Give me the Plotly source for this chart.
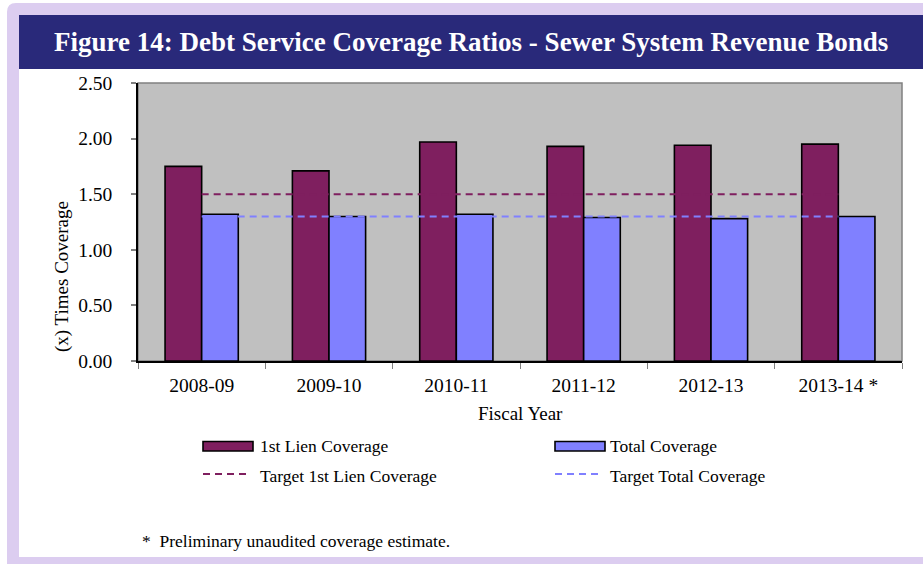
import plotly.graph_objects as go

# Fiscal years and coverage ratios
years = ["2008-09", "2009-10", "2010-11", "2011-12", "2012-13", "2013-14 *"]
first_lien = [1.75, 1.71, 1.97, 1.93, 1.94, 1.95]
total_cov = [1.32, 1.30, 1.32, 1.29, 1.28, 1.30]
target_first_lien = [1.50] * 6
target_total = [1.30] * 6
y_ticks = [0.0, 0.5, 1.0, 1.5, 2.0, 2.5]
y_tick_text = ["0.00", "0.50", "1.00", "1.50", "2.00", "2.50"]

W, H = 923, 564
L, R, T, B = 138, 902, 83, 361  # plot area in pixels

PURPLE = "#7F1F5F"
BLUE = "#8080FF"
LAVENDER = "#DCCDF0"
NAVY = "#29297A"
SERIF = "Liberation Serif, Times New Roman, serif"


def fx(p):
    return (p - L) / (R - L)


def fy(p):
    return (B - p) / (B - T)


fig = go.Figure()
fig.add_trace(go.Bar(x=years, y=first_lien, name="1st Lien Coverage",
                     marker=dict(color=PURPLE, line=dict(color="black", width=1.6))))
fig.add_trace(go.Bar(x=years, y=total_cov, name="Total Coverage",
                     marker=dict(color=BLUE, line=dict(color="black", width=1.6))))
fig.add_trace(go.Scatter(x=years, y=target_first_lien, mode="lines",
                         name="Target 1st Lien Coverage",
                         line=dict(color=PURPLE, width=2, dash="7px,5px")))
fig.add_trace(go.Scatter(x=years, y=target_total, mode="lines",
                         name="Target Total Coverage",
                         line=dict(color=BLUE, width=2, dash="7px,5px")))

shapes = []
# lavender frame with rounded top-left corner
r = 9
shapes.append(dict(
    type="path", xref="paper", yref="paper", layer="below",
    path=(f"M {fx(7)},{fy(564)} L {fx(7)},{fy(3 + r)} "
          f"Q {fx(7)},{fy(3)} {fx(7 + r)},{fy(3)} "
          f"L {fx(923)},{fy(3)} L {fx(923)},{fy(564)} Z"),
    fillcolor=LAVENDER, line=dict(width=0)))
# white inner panel
shapes.append(dict(type="rect", xref="paper", yref="paper", layer="below",
                   x0=fx(19), x1=fx(923), y0=fy(557), y1=fy(15),
                   fillcolor="white", line=dict(width=0)))
# title banner
shapes.append(dict(type="rect", xref="paper", yref="paper", layer="below",
                   x0=fx(19), x1=fx(923), y0=fy(69), y1=fy(15),
                   fillcolor=NAVY, line=dict(width=0)))
# plot area fill and border
shapes.append(dict(type="rect", xref="x domain", yref="y domain", layer="below",
                   x0=0, x1=1, y0=0, y1=1,
                   fillcolor="#C0C0C0", line=dict(color="#808080", width=1.5)))

# legend keys
for x0, color in [(203, PURPLE), (555, BLUE)]:
    shapes.append(dict(type="rect", xref="paper", yref="paper",
                       x0=fx(x0), x1=fx(x0 + 50), y0=fy(451), y1=fy(441.5),
                       fillcolor=color, line=dict(color="black", width=1.6)))
for x0, color in [(203, PURPLE), (555, BLUE)]:
    shapes.append(dict(type="line", xref="paper", yref="paper",
                       x0=fx(x0), x1=fx(x0 + 47), y0=fy(474), y1=fy(474),
                       line=dict(color=color, width=2, dash="7px,5px")))

annotations = [
    dict(text="<b>Figure 14: Debt Service Coverage Ratios - Sewer System Revenue Bonds</b>",
         x=fx(471), y=fy(42), xref="paper", yref="paper", showarrow=False,
         xanchor="center", yanchor="middle",
         font=dict(family=SERIF, size=27, color="white")),
    dict(text="(x) Times Coverage", x=fx(62), y=fy(277), xref="paper", yref="paper",
         showarrow=False, textangle=-90, xanchor="center", yanchor="middle",
         font=dict(family=SERIF, size=19, color="black")),
    dict(text="Fiscal Year", x=fx(520), y=fy(413), xref="paper", yref="paper",
         showarrow=False, xanchor="center", yanchor="middle",
         font=dict(family=SERIF, size=19, color="black")),
    dict(text="*  Preliminary unaudited coverage estimate.", x=fx(140), y=fy(541),
         xref="paper", yref="paper", showarrow=False, xanchor="left", yanchor="middle",
         font=dict(family=SERIF, size=17.5, color="black")),
]
for x0, y0, label in [(258, 446, "1st Lien Coverage"), (608, 446, "Total Coverage"),
                      (258, 476, "Target 1st Lien Coverage"),
                      (608, 476, "Target Total Coverage")]:
    annotations.append(dict(text=label, x=fx(x0), y=fy(y0), xref="paper", yref="paper",
                            showarrow=False, xanchor="left", yanchor="middle",
                            font=dict(family=SERIF, size=17.5, color="black")))

fig.update_layout(
    width=W, height=H,
    margin=dict(l=L, r=W - R, t=T, b=H - B, pad=0),
    paper_bgcolor="white", plot_bgcolor="#C0C0C0",
    barmode="group", bargap=0.425, bargroupgap=0,
    showlegend=False,
    shapes=shapes, annotations=annotations,
    font=dict(family=SERIF, size=19, color="black"),
)
fig.update_xaxes(type="category", showgrid=False, zeroline=False,
                 showline=True, linecolor="black", linewidth=1.5,
                 ticks="outside", tickson="boundaries", ticklen=6,
                 tickcolor="#808080", tickwidth=1,
                 ticklabelstandoff=6,
                 tickfont=dict(family=SERIF, size=19.5, color="black"))
fig.update_yaxes(range=[0, 2.5], tickvals=y_ticks, ticktext=y_tick_text,
                 showgrid=False, zeroline=False,
                 showline=True, linecolor="black", linewidth=1.5,
                 ticks="outside", ticklen=5, tickcolor="#808080", tickwidth=1.5,
                 ticklabelstandoff=15,
                 tickfont=dict(family=SERIF, size=19.5, color="black"))

fig.write_html("out.html")
